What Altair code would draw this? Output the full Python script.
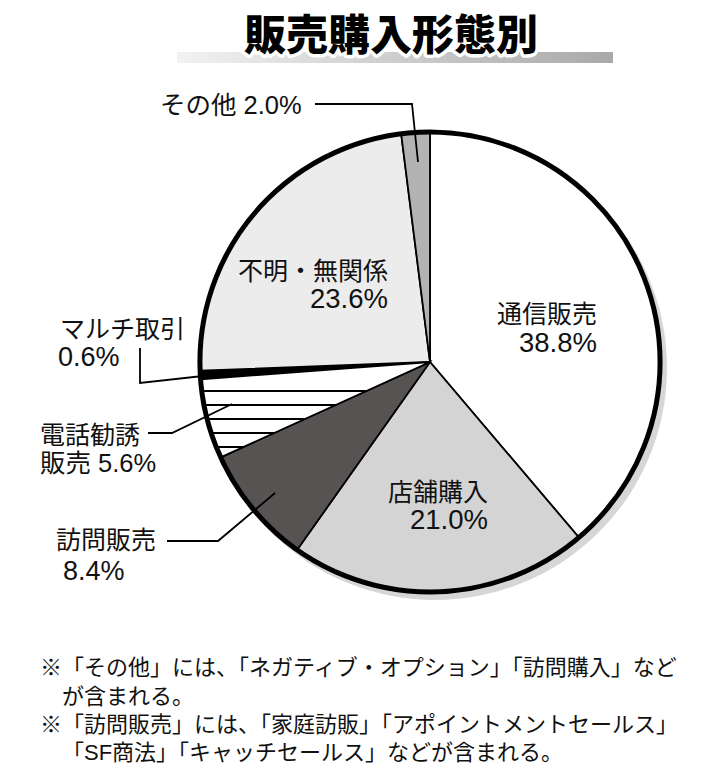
import altair as alt
import pandas as pd

# ---------------- data ----------------
categories = ["通信販売", "店舗購入", "訪問販売", "電話勧誘販売", "マルチ取引", "不明・無関係", "その他"]
shares = [38.8, 21.0, 8.4, 5.6, 0.6, 23.6, 2.0]
title_text = "販売購入形態別"
footnotes = [
    "※「その他」には、「ネガティブ・オプション」「訪問購入」など",
    "が含まれる。",
    "※「訪問販売」には、「家庭訪販」「アポイントメントセールス」",
    "「SF商法」「キャッチセールス」などが含まれる。",
]

# ---------------- styles / layout ----------------
slice_colors = ["#ffffff", "#d4d4d4", "#575353", "#ffffff", "#000000", "#ececec", "#b3b3b3"]
W, H = 713, 783
CX, CY, R = 430, 362, 230
FONT = "Liberation Sans, Noto Sans CJK JP"
TFONT = "Noto Sans CJK JP"
pct = {c: f"{v:.1f}%" for c, v in zip(categories, shares)}

label_rows = [
    # text, x, y, align, size
    ("通信販売", 597, 315, "right", 25),
    (pct["通信販売"], 597, 344, "right", 27.5),
    ("店舗購入", 488, 493, "right", 25),
    (pct["店舗購入"], 488, 521, "right", 27.5),
    ("不明・無関係", 388, 272, "right", 25),
    (pct["不明・無関係"], 388, 300, "right", 27.5),
    ("その他 " + pct["その他"], 160, 106, "left", 25.5),
    ("マルチ取引", 60, 330, "left", 25),
    (pct["マルチ取引"], 58, 358, "left", 27),
    ("電話勧誘", 40, 436, "left", 25),
    ("販売 " + pct["電話勧誘販売"], 40, 464, "left", 25.5),
    ("訪問販売", 56, 541, "left", 25),
    (pct["訪問販売"], 63, 572, "left", 27),
]
labels_df = pd.DataFrame(label_rows, columns=["text", "x", "y", "align", "size"])

leader_rows = [
    (1, 0, 315, 104), (1, 1, 412, 104), (1, 2, 418, 162),
    (2, 0, 140, 348), (2, 1, 140, 383), (2, 2, 212, 375),
    (3, 0, 148, 433), (3, 1, 172, 433), (3, 2, 232, 404),
    (4, 0, 167, 541), (4, 1, 218, 541), (4, 2, 275, 493),
]
leaders_df = pd.DataFrame(leader_rows, columns=["id", "k", "x", "y"])

foot_df = pd.DataFrame({
    "text": footnotes,
    "x": [40, 62, 40, 62],
    "y": [668, 697, 725, 753],
    "size": [22, 22, 22, 22],
})

pie_df = pd.DataFrame({"cat": categories, "share": shares, "order": list(range(len(categories)))})

theta_scale = alt.Scale(domain=[0, 100])

base = (
    alt.Chart(pie_df)
    .transform_window(cum="sum(share)", sort=[alt.SortField("order")], frame=[None, 0])
    .transform_calculate(start="datum.cum - datum.share")
)

shadow = alt.Chart(alt.Data(values=[{"a": 0, "b": 100}])).mark_arc(
    radius=R + 2, fill="#d6d6d6"
).encode(
    theta=alt.Theta("a:Q", scale=theta_scale), theta2="b:Q",
    x=alt.value(CX + 5), y=alt.value(CY + 6),
)

slices = base.mark_arc(radius=R, stroke="black", strokeWidth=1.8).encode(
    theta=alt.Theta("start:Q", scale=theta_scale),
    theta2="cum:Q",
    fill=alt.Fill("cat:N", scale=alt.Scale(domain=categories, range=slice_colors), legend=None),
    x=alt.value(CX), y=alt.value(CY),
)

# horizontal stripes for 電話勧誘販売 via a hard-stop gradient
stripe_centers = [0.305, 0.452, 0.598, 0.745, 0.893]
stops = []
hw = 0.014
for c in stripe_centers:
    stops += [
        alt.GradientStop(color="#ffffff", offset=c - hw),
        alt.GradientStop(color="#000000", offset=c - hw),
        alt.GradientStop(color="#000000", offset=c + hw),
        alt.GradientStop(color="#ffffff", offset=c + hw),
    ]
stops = [alt.GradientStop(color="#ffffff", offset=0)] + stops + [alt.GradientStop(color="#ffffff", offset=1)]
stripe_grad = alt.LinearGradient(gradient="linear", stops=stops, x1=0, x2=0, y1=0, y2=1)

stripes = base.transform_filter(alt.datum.cat == "電話勧誘販売").mark_arc(
    radius=R, fill=stripe_grad, stroke="black", strokeWidth=1.8
).encode(
    theta=alt.Theta("start:Q", scale=theta_scale), theta2="cum:Q",
    x=alt.value(CX), y=alt.value(CY),
)

ring = alt.Chart(alt.Data(values=[{"a": 0, "b": 100}])).mark_arc(
    radius=R, fillOpacity=0, stroke="black", strokeWidth=5
).encode(
    theta=alt.Theta("a:Q", scale=theta_scale), theta2="b:Q",
    x=alt.value(CX), y=alt.value(CY),
)

leaders = alt.Chart(leaders_df).mark_line(color="black", strokeWidth=1.8).encode(
    x=alt.X("x:Q", scale=None, axis=None),
    y=alt.Y("y:Q", scale=None, axis=None),
    detail="id:N",
    order="k:Q",
)

def text_layer(df, align):
    return alt.Chart(df).mark_text(
        font=FONT, align=align, baseline="middle", color="#111111"
    ).encode(
        x=alt.X("x:Q", scale=None, axis=None),
        y=alt.Y("y:Q", scale=None, axis=None),
        text="text:N",
        size=alt.Size("size:Q", scale=None, legend=None),
    )

labels_right = text_layer(labels_df[labels_df["align"] == "right"], "right")
labels_left = text_layer(labels_df[labels_df["align"] == "left"], "left")
foot = text_layer(foot_df, "left")

bar_grad = alt.LinearGradient(
    gradient="linear",
    stops=[alt.GradientStop(color="#f2f2f2", offset=0), alt.GradientStop(color="#a9a9a9", offset=1)],
    x1=0, x2=1, y1=0, y2=0,
)
title_bar = alt.Chart(alt.Data(values=[{}])).mark_rect(fill=bar_grad).encode(
    x=alt.value(177), x2=alt.value(613), y=alt.value(52), y2=alt.value(63)
)

title_halo = alt.Chart(alt.Data(values=[{}])).mark_text(
    text=title_text, font=TFONT, fontSize=42, fontWeight=900, align="center", baseline="middle",
    fill="white", stroke="white", strokeWidth=7, strokeJoin="round",
).encode(x=alt.value(391), y=alt.value(37))

title = alt.Chart(alt.Data(values=[{}])).mark_text(
    text=title_text, font=TFONT, fontSize=42, fontWeight=900, align="center", baseline="middle",
    fill="black",
).encode(x=alt.value(391), y=alt.value(37))

chart = alt.layer(
    shadow, slices, stripes, ring, leaders, labels_right, labels_left, foot,
    title_bar, title_halo, title,
).properties(
    width=W, height=H, padding=0, autosize="none", background="white"
).configure_view(stroke=None)

chart.save("out.html", embed_options={"renderer": "svg", "actions": False})
